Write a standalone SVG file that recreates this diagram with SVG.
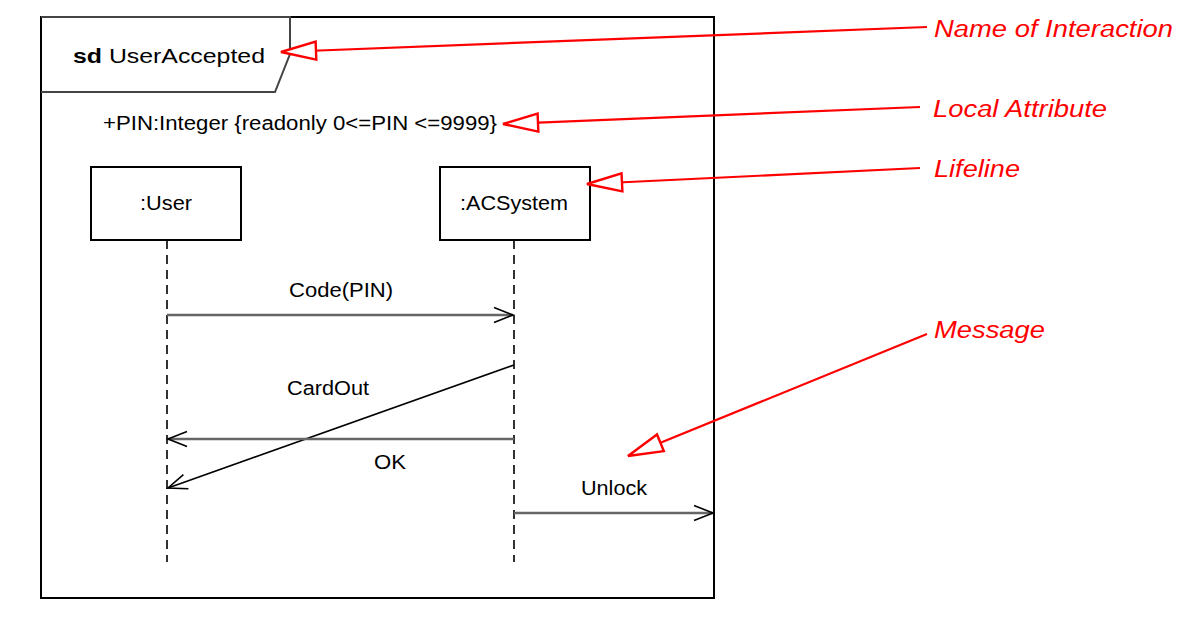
<svg xmlns="http://www.w3.org/2000/svg" width="1182" height="643" viewBox="0 0 1182 643">
<defs>
<style>
.t{font-family:"Liberation Sans",Arial,sans-serif;fill:#000;font-size:19.5px}
.r{font-family:"Liberation Sans",Arial,sans-serif;fill:#ff0000;font-style:italic;font-size:23.5px}
.box{fill:#fff;stroke:#000;stroke-width:2}
.life{stroke:#000;stroke-width:1.6;stroke-dasharray:9,6;fill:none}
.msg{stroke:#666;stroke-width:2.4;fill:none}
.ann{stroke:#ff0000;stroke-width:2.2;fill:none}
</style>
<marker id="open" markerUnits="userSpaceOnUse" markerWidth="24" markerHeight="20" refX="20" refY="9" orient="auto" viewBox="0 0 24 20">
<path d="M1,1.5 L20,9 L1,16.5" fill="none" stroke="#000" stroke-width="1.6"/>
</marker>
<marker id="hollow" markerUnits="userSpaceOnUse" markerWidth="40" markerHeight="24" refX="37" refY="12" orient="auto" viewBox="0 0 40 24">
<path d="M2,3 L37,12 L2,21 Z" fill="#fff" stroke="#ff0000" stroke-width="2.4"/>
</marker>
</defs>
<rect width="1182" height="643" fill="#fff"/>
<g id="frame">
<rect x="41" y="17" width="673" height="581" fill="none" stroke="#000" stroke-width="2"/>
<path d="M41,17 L290,17 L290,54 L275,92 L41,92" fill="none" stroke="#444" stroke-width="2"/>
<text class="t" x="73" y="63" font-size="24" textLength="192" lengthAdjust="spacingAndGlyphs"><tspan font-weight="bold">sd</tspan> UserAccepted</text>
<text class="t" x="103" y="130" textLength="394" lengthAdjust="spacingAndGlyphs">+PIN:Integer {readonly 0&lt;=PIN &lt;=9999}</text>
</g>
<g id="user">
<rect class="box" x="91" y="167" width="150" height="73"/>
<text class="t" x="140" y="210" textLength="52" lengthAdjust="spacingAndGlyphs">:User</text>
<line class="life" x1="167" y1="240" x2="167" y2="562"/>
</g>
<g id="acsystem">
<rect class="box" x="440" y="167" width="150" height="73"/>
<text class="t" x="460" y="210" textLength="108" lengthAdjust="spacingAndGlyphs">:ACSystem</text>
<line class="life" x1="514" y1="240" x2="514" y2="562" stroke="#555"/>
</g>
<g id="messages">
<line class="msg" x1="167" y1="315" x2="513" y2="315" marker-end="url(#open)"/>
<text class="t" x="289" y="297" textLength="104" lengthAdjust="spacingAndGlyphs">Code(PIN)</text>
<line x1="514" y1="365" x2="168" y2="488" stroke="#000" stroke-width="1.6" marker-end="url(#open)"/>
<text class="t" x="287" y="395" textLength="82" lengthAdjust="spacingAndGlyphs">CardOut</text>
<line class="msg" x1="514" y1="439" x2="168" y2="439" marker-end="url(#open)"/>
<text class="t" x="374" y="469" textLength="32" lengthAdjust="spacingAndGlyphs">OK</text>
<line class="msg" x1="514" y1="513" x2="713" y2="513" marker-end="url(#open)"/>
<text class="t" x="581" y="495" textLength="66" lengthAdjust="spacingAndGlyphs">Unlock</text>
</g>
<g id="annotations">
<line class="ann" x1="927" y1="27" x2="281" y2="52" marker-end="url(#hollow)"/>
<text class="r" x="934" y="37" textLength="239" lengthAdjust="spacingAndGlyphs">Name of Interaction</text>
<line class="ann" x1="920" y1="107" x2="503" y2="124" marker-end="url(#hollow)"/>
<text class="r" x="933" y="117" textLength="174" lengthAdjust="spacingAndGlyphs">Local Attribute</text>
<line class="ann" x1="920" y1="168" x2="587" y2="184" marker-end="url(#hollow)"/>
<text class="r" x="934" y="177" textLength="86" lengthAdjust="spacingAndGlyphs">Lifeline</text>
<line class="ann" x1="927" y1="334" x2="628" y2="456" marker-end="url(#hollow)"/>
<text class="r" x="934" y="338" textLength="111" lengthAdjust="spacingAndGlyphs">Message</text>
</g>
</svg>
